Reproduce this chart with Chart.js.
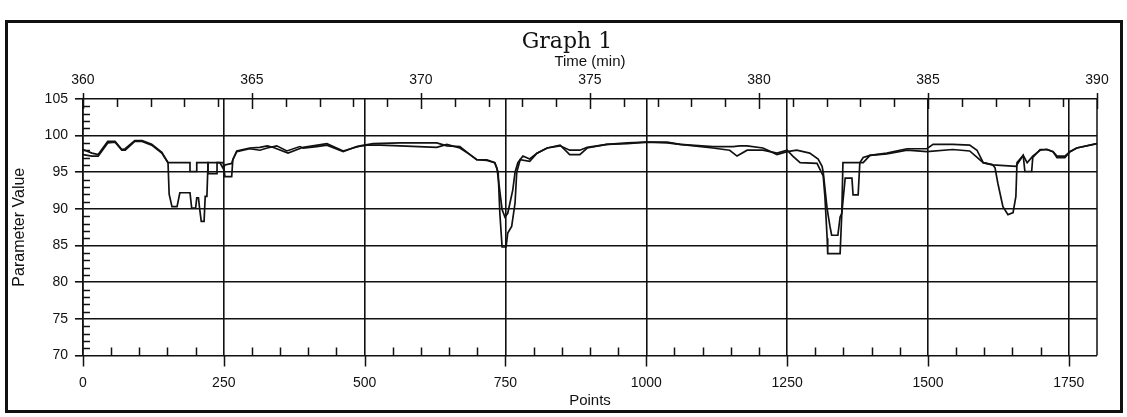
<!DOCTYPE html>
<html>
<head>
<meta charset="utf-8">
<title>Graph 1</title>
<script src="https://cdn.jsdelivr.net/npm/chart.js@4.4.1/dist/chart.umd.min.js"></script>
<style>
  html, body { margin: 0; padding: 0; background: #fff; }
  #wrap { width: 1127px; height: 417px; }
</style>
</head>
<body>
<div id="wrap"><canvas id="graph" width="1127" height="417"></canvas></div>
<script>
// trace 1 (the one with the deeper dips): sample point index and value
const pointsA = [0, 16, 27, 44, 57, 69, 75, 92, 105, 122,
  140, 151, 153, 158, 167, 172, 190, 193, 200, 202,
  205, 207, 210, 215, 217, 220, 222, 243, 249, 252,
  264, 266, 273, 296, 314, 327, 344, 362, 385, 391,
  415, 433, 462, 486, 504, 527, 563, 628, 646, 669,
  687, 699, 717, 731, 737, 740, 744, 751, 754, 761,
  767, 770, 776, 793, 806, 824, 847, 864, 882, 895,
  930, 966, 1001, 1037, 1060, 1118, 1148, 1161, 1179, 1207,
  1232, 1250, 1260, 1273, 1303, 1314, 1317, 1321, 1322, 1344,
  1347, 1349, 1385, 1397, 1427, 1463, 1498, 1544, 1574, 1598,
  1615, 1619, 1624, 1633, 1642, 1651, 1656, 1658, 1669, 1672,
  1684, 1686, 1699, 1711, 1722, 1729, 1743, 1752, 1764, 1800];
const valuesA = [97.4, 97.2, 97.2, 99.0, 99.1, 98.0, 98.0, 99.2, 99.2, 98.7,
  97.6, 96.3, 92.0, 90.3, 90.3, 92.2, 92.2, 90.1, 90.1, 91.5,
  91.5, 90.1, 88.3, 88.3, 91.7, 91.7, 96.3, 96.3, 95.5, 96.0,
  96.2, 96.7, 97.8, 98.2, 98.0, 98.3, 98.6, 97.9, 98.5, 98.3,
  98.5, 98.7, 97.8, 98.5, 98.7, 98.7, 98.6, 98.4, 98.8, 98.3,
  97.4, 96.7, 96.6, 96.3, 95.0, 89.4, 84.8, 84.8, 86.7, 87.6,
  90.8, 95.0, 96.7, 96.5, 97.6, 98.3, 98.6, 98.0, 98.0, 98.4,
  98.8, 98.9, 99.1, 99.0, 98.8, 98.3, 98.0, 97.2, 98.0, 98.0,
  97.6, 98.0, 97.2, 96.3, 96.2, 94.5, 91.7, 86.0, 83.9, 83.9,
  89.4, 96.3, 96.3, 97.3, 97.5, 98.0, 97.8, 98.1, 97.9, 96.3,
  96.0, 95.6, 93.5, 90.3, 89.2, 89.5, 91.7, 96.3, 97.3, 95.1,
  95.1, 97.0, 98.1, 98.1, 97.8, 97.0, 97.0, 97.8, 98.3, 98.9];

// trace 2 (stays higher in the dips)
const pointsB = [0, 16, 27, 44, 57, 69, 75, 92, 105, 122,
  140, 151, 190, 190, 202, 202, 222, 222, 238, 238,
  249, 252, 264, 266, 273, 296, 314, 327, 337, 364,
  391, 433, 462, 492, 515, 563, 628, 646, 669, 687,
  699, 717, 731, 735, 744, 749, 754, 763, 767, 772,
  781, 793, 806, 824, 847, 864, 882, 895, 930, 966,
  1001, 1037, 1060, 1118, 1154, 1166, 1179, 1207, 1232, 1250,
  1267, 1290, 1305, 1312, 1314, 1321, 1326, 1329, 1340, 1344,
  1347, 1353, 1365, 1367, 1376, 1379, 1385, 1397, 1427, 1450,
  1463, 1498, 1509, 1544, 1574, 1587, 1598, 1615, 1656, 1669,
  1676, 1686, 1699, 1711, 1722, 1729, 1743, 1752, 1764, 1800];
const valuesB = [98.1, 97.6, 97.4, 99.2, 99.2, 98.1, 98.2, 99.3, 99.3, 98.8,
  97.7, 96.3, 96.3, 95.1, 95.1, 96.3, 96.3, 94.8, 94.8, 96.3,
  96.3, 94.4, 94.4, 96.7, 97.9, 98.3, 98.4, 98.6, 98.4, 97.6,
  98.4, 98.9, 97.9, 98.6, 98.9, 99.0, 99.0, 98.6, 98.5, 97.4,
  96.7, 96.7, 96.3, 95.5, 89.9, 88.9, 89.4, 92.6, 95.0, 96.3,
  97.2, 96.8, 97.6, 98.3, 98.7, 97.4, 97.4, 98.3, 98.8, 99.0,
  99.1, 99.1, 98.8, 98.5, 98.5, 98.6, 98.6, 98.3, 97.4, 97.8,
  98.0, 97.6, 96.8, 95.8, 95.0, 90.0, 87.6, 86.4, 86.4, 88.9,
  89.4, 94.2, 94.2, 91.9, 91.9, 96.3, 97.0, 97.3, 97.6, 98.0,
  98.2, 98.2, 98.8, 98.8, 98.7, 98.0, 96.3, 96.0, 95.8, 97.3,
  96.3, 97.2, 98.0, 98.1, 97.8, 97.2, 97.2, 97.8, 98.3, 98.9];

// tick labels
const pointTicks = [0, 250, 500, 750, 1000, 1250, 1500, 1750];
const timeTicks = [360, 365, 370, 375, 380, 385, 390];
const valueTicks = [70, 75, 80, 85, 90, 95, 100, 105];

// minor tick spacing (drawn inside the plot)
const pointMinor = 50;
const timeMinor = 1;
const valueMinor = 1;

const ink = '#111';
const sans = 'Liberation Sans';

// white background, title, tick marks (minor ones point inward), right edge and outer frame
const frameAndTicks = {
    id: 'frameAndTicks',
    beforeDraw(chart) {
        const ctx = chart.ctx;
        ctx.save();
        ctx.fillStyle = '#fff';
        ctx.fillRect(0, 0, chart.width, chart.height);
        ctx.restore();
    },
    afterDraw(chart) {
        const { ctx, chartArea: a, scales } = chart;
        ctx.save();
        ctx.strokeStyle = ink;
        ctx.lineWidth = 1.5;
        ctx.beginPath();
        // bottom axis
        for (let v = scales.x.min; v < scales.x.max; v += pointMinor) {
            const x = Math.round(scales.x.getPixelForValue(v)) + 0.5;
            if (pointTicks.includes(v)) {
                ctx.moveTo(x, a.bottom);
                ctx.lineTo(x, a.bottom + 11);
            } else {
                ctx.moveTo(x, a.bottom);
                ctx.lineTo(x, a.bottom - 8);
            }
        }
        // top axis (minutes)
        for (let v = scales.x2.min; v <= scales.x2.max; v += timeMinor) {
            const x = Math.round(scales.x2.getPixelForValue(v)) + 0.5;
            if (timeTicks.includes(v)) {
                ctx.moveTo(x, a.top - 6);
                ctx.lineTo(x, a.top + 10);
            } else {
                ctx.moveTo(x, a.top);
                ctx.lineTo(x, a.top + 8);
            }
        }
        // left axis
        for (let v = scales.y.min + valueMinor; v < scales.y.max; v += valueMinor) {
            if (valueTicks.includes(v)) continue;
            const y = Math.round(scales.y.getPixelForValue(v)) + 0.5;
            ctx.moveTo(a.left, y);
            ctx.lineTo(a.left + 7, y);
        }
        ctx.moveTo(a.right, a.top);
        ctx.lineTo(a.right, a.bottom);
        ctx.stroke();

        ctx.lineWidth = 3;
        ctx.strokeRect(6.5, 21.5, chart.width - 12, chart.height - 27);

        // chart title
        ctx.fillStyle = ink;
        ctx.font = '22px "DejaVu Serif"';
        ctx.textAlign = 'center';
        ctx.textBaseline = 'middle';
        ctx.fillText('Graph 1', 567, 42);
        ctx.restore();
    }
};

const toXY = (xs, ys) => xs.map((x, i) => ({ x: x, y: ys[i] }));

new Chart(document.getElementById('graph'), {
    type: 'line',
    data: {
        datasets: [
            {
                label: 'Trace 1',
                data: toXY(pointsA, valuesA),
                borderColor: ink,
                borderWidth: 1.7,
                pointRadius: 0,
                tension: 0,
                fill: false
            },
            {
                label: 'Trace 2',
                data: toXY(pointsB, valuesB),
                borderColor: ink,
                borderWidth: 1.7,
                pointRadius: 0,
                tension: 0,
                fill: false
            }
        ]
    },
    options: {
        responsive: false,
        animation: false,
        layout: { padding: { left: 6, right: 30, top: 52.4, bottom: 6 } },
        plugins: {
            legend: { display: false },
            tooltip: { enabled: false },
            title: { display: false }
        },
        scales: {
            x: {
                type: 'linear',
                position: 'bottom',
                min: 0,
                max: 1800,
                afterBuildTicks: s => { s.ticks = pointTicks.map(v => ({ value: v })); },
                ticks: {
                    color: ink,
                    font: { family: sans, size: 14, lineHeight: 1 },
                    padding: 3,
                    maxRotation: 0,
                    autoSkip: false,
                    callback: v => String(v)
                },
                grid: { color: ink, lineWidth: 1.6, tickLength: 18, tickColor: 'transparent' },
                border: { display: false },
                title: {
                    display: true,
                    text: 'Points',
                    color: ink,
                    font: { family: sans, size: 15, lineHeight: 1 },
                    padding: { top: 0, bottom: 2.5 }
                }
            },
            x2: {
                type: 'linear',
                position: 'top',
                min: 360,
                max: 390,
                afterBuildTicks: s => { s.ticks = timeTicks.map(v => ({ value: v })); },
                ticks: {
                    color: ink,
                    font: { family: sans, size: 14, lineHeight: 1 },
                    padding: 2,
                    maxRotation: 0,
                    autoSkip: false,
                    callback: v => String(v)
                },
                grid: { drawOnChartArea: false, tickLength: 10, tickColor: 'transparent' },
                border: { display: false },
                title: {
                    display: true,
                    text: 'Time (min)',
                    color: ink,
                    font: { family: sans, size: 15, lineHeight: 1 },
                    padding: { top: 2, bottom: 1.5 }
                }
            },
            y: {
                type: 'linear',
                min: 70,
                max: 105,
                afterBuildTicks: s => { s.ticks = valueTicks.map(v => ({ value: v })); },
                ticks: {
                    color: ink,
                    font: { family: sans, size: 14 },
                    padding: 7,
                    callback: v => String(v)
                },
                grid: { color: ink, lineWidth: 1.6, tickLength: 8 },
                border: { display: true, color: ink, width: 1.6 },
                title: {
                    display: true,
                    text: 'Parameter Value',
                    color: ink,
                    font: { family: sans, size: 16 },
                    padding: { top: 4.4, bottom: 8 }
                }
            }
        }
    },
    plugins: [frameAndTicks]
});
</script>
</body>
</html>
